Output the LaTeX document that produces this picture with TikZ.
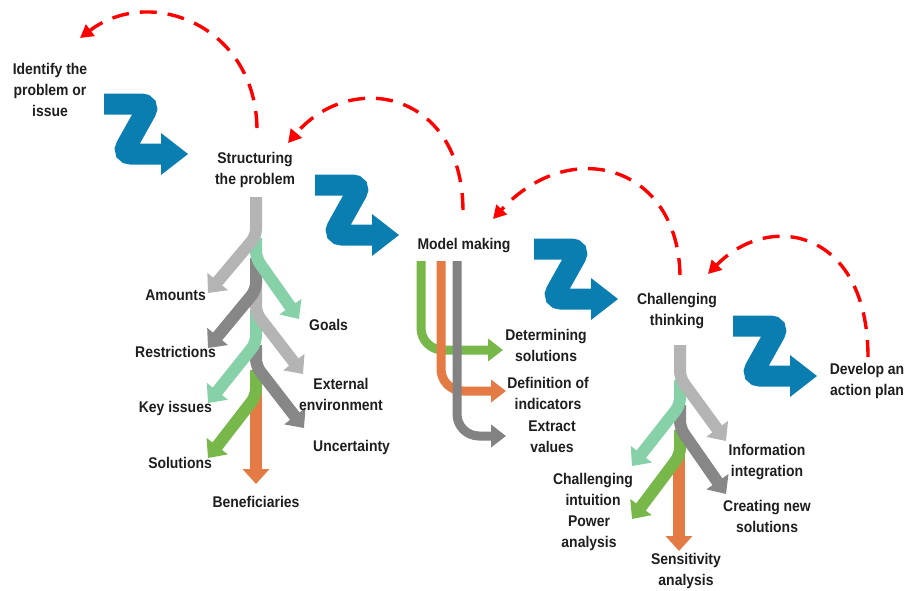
\documentclass[tikz,border=0pt]{standalone}
\usepackage{fontspec}
\setmainfont{Liberation Sans}[FakeStretch=0.9]
\usetikzlibrary{arrows.meta}
\definecolor{zblue}{HTML}{0A7EB1}
\definecolor{lgray}{HTML}{B4B4B4}
\definecolor{dgray}{HTML}{878787}
\definecolor{mgray}{HTML}{828282}
\definecolor{mint}{HTML}{87D1A9}
\definecolor{lgreen}{HTML}{78B84A}
\definecolor{orng}{HTML}{E47B45}
\definecolor{txt}{HTML}{1E1E1E}
\tikzset{
  lbl/.style={font=\fontsize{15.5}{21}\selectfont\bfseries, text=txt, align=center, inner sep=0pt},
  br/.style={line width=12pt, rounded corners=7pt, -{Triangle[length=15pt,width=26pt]}},
  hb/.style={line width=9pt, rounded corners=22pt, -{Triangle[length=15pt,width=22pt]}},
  loopback/.style={red, line width=3.4pt, dash pattern=on 17pt off 11pt, -{Triangle[length=13pt,width=14pt]}},
  zarrow/.pic={
    \draw[zblue, line width=21pt, rounded corners=9pt] (0,11) -- (46,11) -- (18,61) -- (60,61);
    \fill[zblue] (57,40) -- (84,61) -- (57,82) -- cycle;
  }
}
\begin{document}
\begin{tikzpicture}[x=1pt,y=-1pt]
\useasboundingbox (0,0) rectangle (907,590);
\fill[white] (0,0) rectangle (907,590);

% Z arrows
\pic at (104,93) {zarrow};
\pic at (315,174) {zarrow};
\pic at (534,238) {zarrow};
\pic at (733,315) {zarrow};

% Main labels
\node[lbl] (identify) at (50,90) {Identify the\\problem or\\issue};
\node[lbl] (struct) at (255,170) {Structuring\\the problem};
\node[lbl] (model) at (464,246) {Model making};
\node[lbl] (chall) at (677,311) {Challenging\\thinking};
\node[lbl] (develop) at (867,381) {Develop an\\action plan};

% Loop-back arcs
\coordinate (a1s) at (257,128); \coordinate (a1e) at (80,38);
\coordinate (a2s) at (463,210); \coordinate (a2e) at (288,143);
\coordinate (a3s) at (680,275); \coordinate (a3e) at (493,219);
\coordinate (a4s) at (868,357); \coordinate (a4e) at (708,274);
\draw[loopback] (a1s) .. controls (255,25) and (150,-15) .. (a1e);
\draw[loopback] (a2s) .. controls (462,90) and (350,70) .. (a2e);
\draw[loopback] (a3s) .. controls (678,165) and (570,135) .. (a3e);
\draw[loopback] (a4s) .. controls (868,230) and (770,210) .. (a4e);

% Tree 1: Structuring the problem
\draw[br, orng] (256,387) -- (256,484);
\draw[br, lgreen] (256,370) -- (256,396) -- (208,458);
\draw[br, dgray] (256,345) -- (256,366) -- (304,428);
\draw[br, mint] (256,310) -- (256,343) -- (208,403);
\draw[br, lgray] (256,280) -- (256,313) -- (303,374);
\draw[br, dgray] (256,258) -- (256,290) -- (208,348);
\draw[br, mint] (256,238) -- (256,258) -- (299,319);
\draw[br, lgray] (256,197) -- (256,236) -- (208,293);

\node[lbl, anchor=east] (amounts) at (206,295) {Amounts};
\node[lbl, anchor=west] (goals) at (309,325) {Goals};
\node[lbl, anchor=east] (restr) at (216,352) {Restrictions};
\node[lbl] (extenv) at (341,394) {External\\environment};
\node[lbl, anchor=east] (keyiss) at (212,408) {Key issues};
\node[lbl, anchor=west] (uncert) at (313,447) {Uncertainty};
\node[lbl, anchor=east] (solut) at (212,463) {Solutions};
\node[lbl] (benef) at (256,502) {Beneficiaries};

% Tree 2: Model making
\draw[hb, lgreen] (421,261) -- (421,350) -- (503,350);
\draw[hb, orng] (441,261) -- (441,391) -- (506,391);
\draw[hb, mgray] (457,261) -- (457,436) -- (506,436);

\node[lbl] (determ) at (546,345) {Determining\\solutions};
\node[lbl] (defind) at (548,393) {Definition of\\indicators};
\node[lbl] (extract) at (552,437) {Extract\\values};

% Tree 3: Challenging thinking
\draw[br, orng] (679,455) -- (679,551);
\draw[br, lgreen] (680,430) -- (680,455) -- (632,519);
\draw[br, dgray] (680,405) -- (680,428) -- (726,494);
\draw[br, mint] (680,380) -- (680,405) -- (632,466);
\draw[br, lgray] (680,345) -- (680,378) -- (726,441);

\node[lbl] (info) at (767,462) {Information\\integration};
\node[lbl] (creat) at (767,516) {Creating new\\solutions};
\node[lbl] (chint) at (593,489) {Challenging\\intuition};
\node[lbl] (power) at (589,533) {Power\\analysis};
\node[lbl] (sens) at (686,571) {Sensitivity\\analysis};
\end{tikzpicture}
\end{document}
